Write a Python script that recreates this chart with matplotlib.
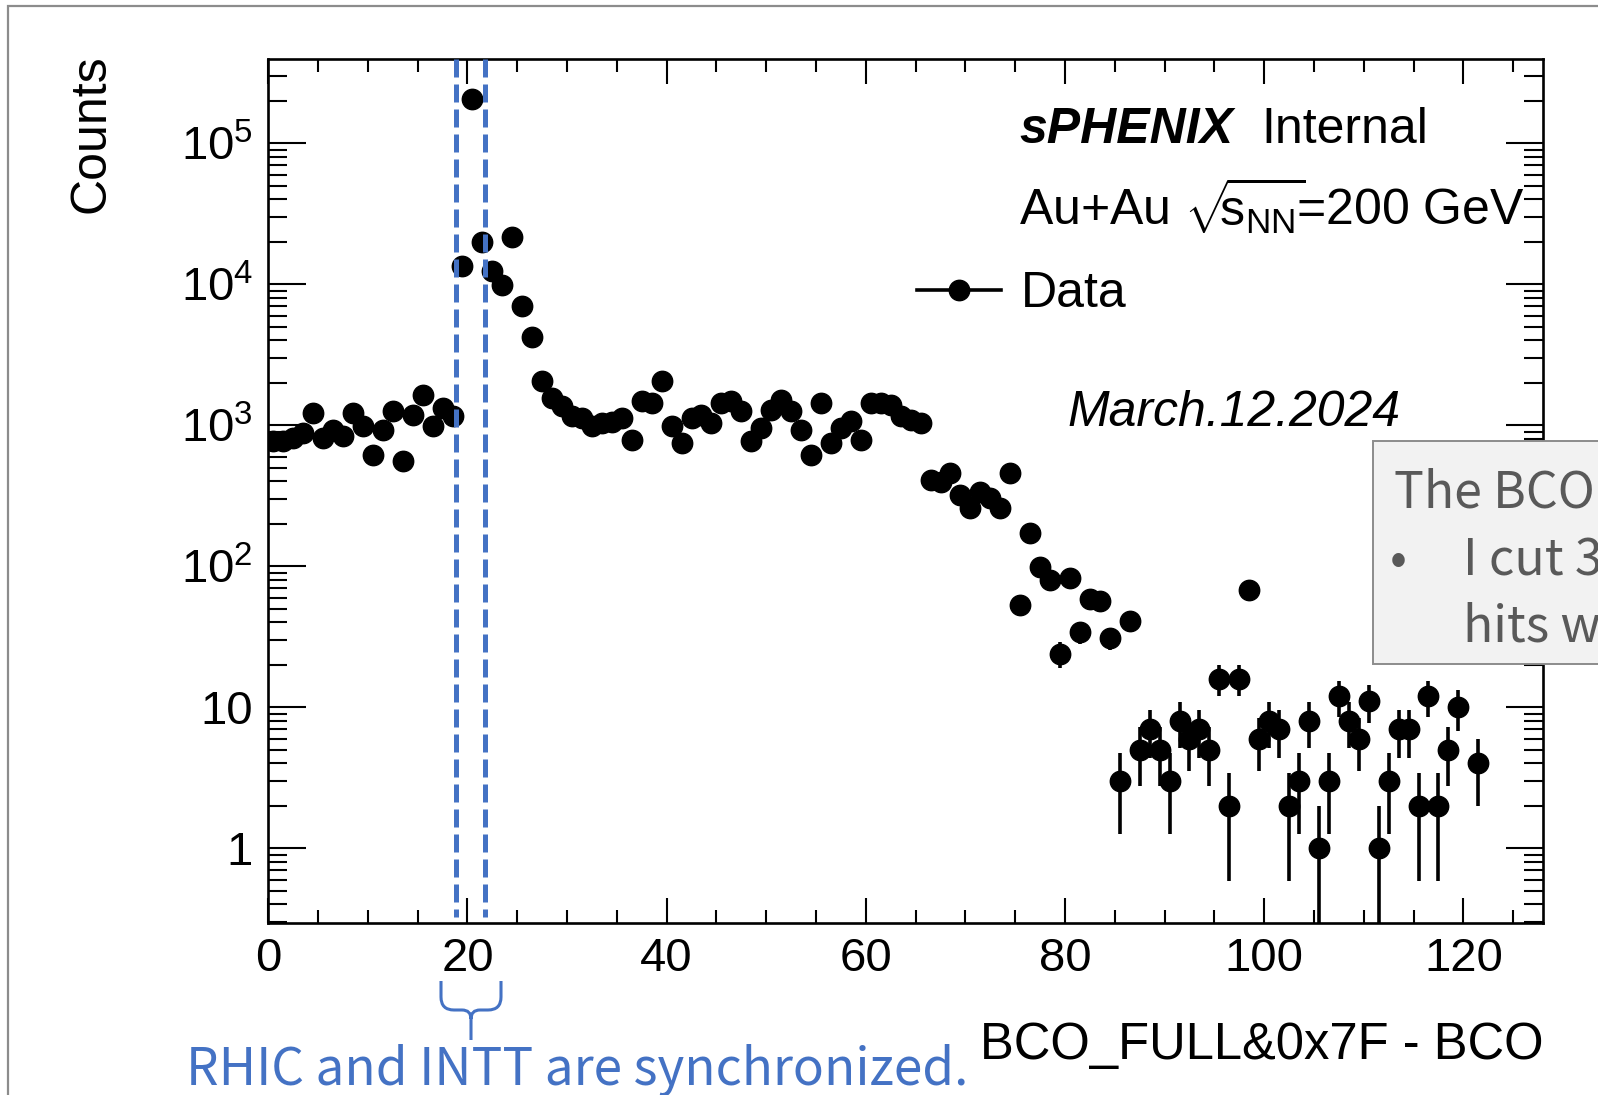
import numpy as np
import matplotlib.pyplot as plt
from matplotlib.lines import Line2D
from matplotlib.patches import Rectangle, PathPatch
from matplotlib.path import Path
from matplotlib.ticker import MultipleLocator, LogLocator, FuncFormatter, NullFormatter

plt.rcParams['font.family'] = ['Liberation Sans', 'DejaVu Sans']
plt.rcParams['mathtext.fontset'] = 'custom'
plt.rcParams['mathtext.rm'] = 'Liberation Sans'
plt.rcParams['mathtext.it'] = 'Liberation Sans:italic'
plt.rcParams['mathtext.bf'] = 'Liberation Sans:bold'

# counts per bin, BCO_FULL&0x7F - BCO, bins of width 1 from 0 to 128
counts = [
    770, 780, 810, 880, 1220, 810, 930, 834, 1220, 982,
    618, 930, 1256, 554, 1190, 1650, 982, 1325, 1155, 13500,
    207000, 19800, 12400, 9900, 21800, 7000, 4220, 2050, 1560, 1360,
    1155, 1125, 982, 1037, 1050, 1125, 789, 1480, 1438, 2050,
    982, 747, 1125, 1190, 1037, 1438, 1480, 1256, 768, 955,
    1291, 1520, 1256, 930, 618, 1438, 747, 955, 1066, 789,
    1438, 1438, 1400, 1155, 1096, 1037, 410, 399, 457, 321,
    258, 339, 303, 258, 457, 53, 171, 99, 80, 24,
    82, 34, 59, 57, 31, 3, 41, 5, 7, 5,
    3, 8, 6, 7, 5, 16, 2, 16, 68, 6,
    8, 7, 2, 3, 8, 1, 3, 12, 8, 6,
    11, 1, 3, 7, 7, 2, 12, 2, 5, 10,
    0, 4, 0, 0, 0, 0, 0, 0,
]
bin_edges = np.arange(0, 129)
sync_lines = [18.8, 21.8]   # dashed window drawn on the slide

label_main = 'sPHENIX'
label_status = 'Internal'
label_energy = r'Au+Au $\sqrt{\!\!\mathrm{s}_{\mathrm{NN}}}\!$=200 GeV'
label_date = 'March.12.2024'
note_lines = ['The BCO', 'I cut 3', 'hits w']
sync_text = 'RHIC and INTT are synchronized.'

W, H = 1598, 1095
def fx(px):
    return px / W
def fy(py):
    return 1 - py / H

blue = '#4472C4'

fig = plt.figure(figsize=(W / 100, H / 100), dpi=100)
ax = fig.add_axes([fx(268.3), fy(923.3), (1543 - 268.3) / W, (923.3 - 59.3) / H])

y = np.array(counts, dtype=float)
x = 0.5 * (bin_edges[:-1] + bin_edges[1:])
m = y > 0
x, y = x[m], y[m]
err = np.sqrt(y)
lo = y - np.maximum(y - err, 1e-3)
ax.errorbar(x, y, yerr=[lo, err], fmt='o', color='k', ms=14.7,
            elinewidth=2.6, capsize=0, zorder=3)

ax.set_yscale('log')
ax.set_xlim(0, 128)
ax.set_ylim(0.294, 3.94e5)

for v in sync_lines:
    ax.axvline(v, 1.0, 0.007, color=blue, lw=3.6, dashes=(3.6, 1.4), zorder=5)

ax.xaxis.set_major_locator(MultipleLocator(20))
ax.xaxis.set_minor_locator(MultipleLocator(5))
ax.yaxis.set_major_locator(LogLocator(base=10))
ax.yaxis.set_minor_locator(LogLocator(base=10, subs=np.arange(2, 10)))
ax.yaxis.set_minor_formatter(NullFormatter())

def ylab(v, pos):
    n = int(round(np.log10(v)))
    if n == 0:
        return '1'
    if n == 1:
        return '10'
    return r'$10^{%d}$' % n
ax.yaxis.set_major_formatter(FuncFormatter(ylab))

ax.tick_params(which='both', direction='in', top=True, right=True, width=1.5,
               labelsize=34, colors='k')
ax.xaxis.set_tick_params(which='major', length=18, pad=10)
ax.xaxis.set_tick_params(which='minor', length=9.4)
ax.yaxis.set_tick_params(which='major', length=27, pad=11)
ax.yaxis.set_tick_params(which='minor', length=13.7)
for s in ax.spines.values():
    s.set_linewidth(1.9)

ax.set_ylabel('Counts', fontsize=36, loc='top')
ax.yaxis.set_label_coords(-0.121, 1.006)
ax.set_xlabel('BCO_FULL&0x7F - BCO', fontsize=36.5, loc='right')
ax.xaxis.set_label_coords(1.0, -0.113)

fig.text(fx(1019), fy(142.7), label_main, fontsize=36, fontweight='bold',
         fontstyle='italic', va='baseline')
fig.text(fx(1261), fy(142.7), label_status, fontsize=36, va='baseline')
fig.text(fx(1019), fy(226), label_energy, fontsize=36, va='baseline')
fig.text(fx(1067), fy(426), label_date, fontsize=36, fontstyle='italic', va='baseline')

h = Line2D([], [], color='k', marker='o', ms=14.7, lw=2.6)
ax.legend([h], ['Data'], loc='upper left', bbox_to_anchor=(fx(917), fy(271)),
          bbox_transform=fig.transFigure, frameon=False, borderpad=0,
          borderaxespad=0, handlelength=1.68, handletextpad=0.4, fontsize=36)

# slide frame
fig.add_artist(Rectangle((fx(8), fy(1200)), 1.2, fy(6) - fy(1200),
                         transform=fig.transFigure, fill=False,
                         ec='#8c8c8c', lw=1.6, zorder=1))

# grey note box overlapping the plot on the right
fig.add_artist(Rectangle((fx(1373), fy(664)), 0.2, fy(441) - fy(664),
                         transform=fig.transFigure, fc='#F2F2F2',
                         ec='#8c8c8c', lw=1.4, zorder=6))
cjk = ['Noto Sans CJK JP', 'DejaVu Sans']
fig.text(fx(1394), fy(508), note_lines[0], fontsize=36, color='#595959',
         family=cjk, va='baseline', zorder=7)
fig.text(fx(1390), fy(575), '•', fontsize=36, color='#595959',
         family=cjk, va='baseline', zorder=7)
fig.text(fx(1463), fy(575), note_lines[1], fontsize=36, color='#595959',
         family=cjk, va='baseline', zorder=7)
fig.text(fx(1463), fy(642), note_lines[2], fontsize=36, color='#595959',
         family=cjk, va='baseline', zorder=7)

# curly brace under the synchronized window
def P(px, py):
    return (fx(px), fy(py))
verts = [P(441, 981), P(441, 997), P(441, 1010), P(454, 1010), P(462, 1010),
         P(471, 1010), P(471, 1019), P(471, 1040),
         P(501, 981), P(501, 997), P(501, 1010), P(488, 1010), P(480, 1010),
         P(471, 1010), P(471, 1019)]
codes = [Path.MOVETO, Path.LINETO, Path.CURVE3, Path.CURVE3, Path.LINETO,
         Path.CURVE3, Path.CURVE3, Path.LINETO,
         Path.MOVETO, Path.LINETO, Path.CURVE3, Path.CURVE3, Path.LINETO,
         Path.CURVE3, Path.CURVE3]
fig.add_artist(PathPatch(Path(verts, codes), transform=fig.transFigure,
                         fill=False, ec=blue, lw=2.2, capstyle='butt'))
fig.text(fx(185.5), fy(1085), sync_text, fontsize=37, color=blue,
         family=cjk, va='baseline')

fig.savefig('out.png', dpi=100)
